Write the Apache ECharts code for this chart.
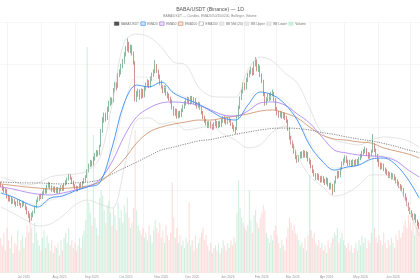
<!DOCTYPE html>
<html>
<head>
<meta charset="utf-8">
<script src="https://cdn.jsdelivr.net/npm/echarts@6/dist/echarts.min.js"></script>
<style>
  html, body { margin: 0; padding: 0; background: #fff; }
  #chart { width: 420px; height: 280px; }
</style>
</head>
<body>
<div id="chart"></div>
<script>
// trading days (weekdays) from 2025-06-10, one per candle
var dates = [];
var d = Date.UTC(2025, 5, 10);
while (dates.length < 272) {
  var dt = new Date(d);
  var wd = dt.getUTCDay();
  if (wd !== 0 && wd !== 6) dates.push(dt.toISOString().slice(0, 10));
  d += 86400000;
}
var monthNames = ['Jan','Feb','Mar','Apr','May','Jun','Jul','Aug','Sep','Oct','Nov','Dec'];

var opens = [
  123.4,122.2,121.3,119.5,120.2,117.4,115.5,116.6,114.9,115.6,
  114.0,113.2,115.3,113.5,112.9,114.1,113.6,112.1,109.9,108.5,
  106.5,108.6,109.9,112.1,115.4,116.0,117.9,116.6,119.1,120.5,
  119.1,122.4,123.3,121.9,120.1,121.5,119.5,121.2,119.2,120.6,
  122.1,120.4,123.2,123.8,125.6,127.3,125.9,124.3,122.5,121.8,
  120.3,121.0,123.0,121.6,124.1,124.9,126.8,129.3,132.1,133.8,
  132.7,135.0,137.2,138.4,137.5,141.2,148.6,153.1,156.2,154.5,
  158.3,161.6,163.4,162.6,167.9,170.6,169.4,175.2,176.0,179.3,
  181.0,184.9,187.0,189.8,186.5,188.3,185.2,180.6,163.5,166.2,
  167.3,164.4,167.6,165.0,168.7,170.4,171.9,169.6,173.3,175.1,
  176.5,179.1,176.7,174.6,171.5,169.2,167.3,169.2,165.9,165.3,
  163.5,162.4,159.3,156.6,158.1,155.1,156.9,155.5,158.2,159.9,
  161.1,162.8,163.5,161.6,164.1,162.1,163.4,160.9,160.0,161.3,
  159.3,157.1,154.9,153.3,151.8,150.7,152.2,150.3,149.8,151.7,
  152.6,150.5,152.2,150.9,153.3,154.4,152.9,152.2,154.2,153.2,
  151.7,150.1,149.3,149.4,154.9,159.6,163.8,167.2,170.5,168.6,
  172.7,174.9,176.4,177.6,175.5,180.3,181.5,177.6,178.7,174.8,
  172.0,165.7,161.4,163.5,165.1,163.6,166.0,166.1,163.2,158.9,
  156.7,155.6,157.1,155.0,156.5,154.4,153.1,149.3,145.2,142.8,
  141.3,138.6,135.9,134.2,136.1,137.6,136.3,138.5,136.6,137.9,
  133.2,134.1,131.5,129.3,127.6,126.1,127.6,125.7,124.8,126.5,
  124.4,123.7,125.6,122.8,121.6,122.9,119.9,124.2,126.3,128.7,
  127.0,130.5,133.1,134.4,135.9,133.9,132.6,133.9,132.1,134.1,
  132.4,134.3,132.9,135.2,136.0,138.1,138.8,139.7,137.3,135.9,
  137.2,138.7,141.6,139.3,136.8,134.5,132.3,131.0,132.4,130.1,
  128.9,128.3,127.0,128.1,126.2,127.5,125.7,124.5,123.2,122.3,
  121.1,120.7,117.9,116.2,113.8,111.4,109.9,108.3,107.0,108.4,
  105.7,104.3
];
var closes = [
  122.5,121.0,119.8,120.6,117.0,115.8,116.9,114.6,115.3,114.2,
  113.5,115.0,113.8,112.6,114.4,113.9,111.8,109.6,108.2,106.8,
  108.9,109.6,112.4,115.1,116.3,117.6,116.9,118.8,120.2,119.4,
  122.1,123.0,121.6,120.4,121.2,119.8,120.9,119.5,120.3,121.8,
  120.7,122.9,124.1,125.3,127.0,126.2,124.0,122.8,121.5,120.6,
  121.3,122.7,121.9,123.8,125.2,126.5,129.0,131.8,133.5,132.4,
  135.3,136.9,138.1,137.2,140.6,147.9,153.4,155.8,154.1,158.7,
  161.2,163.0,162.1,167.5,170.2,169.0,174.8,176.3,178.9,181.2,
  184.5,187.3,189.4,186.8,187.9,185.6,181.2,164.0,165.8,166.9,
  164.7,167.2,165.3,168.4,170.1,171.6,169.9,173.0,174.8,176.2,
  179.4,177.0,174.3,171.2,169.5,167.6,168.9,166.2,165.0,163.8,
  162.7,159.6,156.9,157.8,155.4,156.6,155.8,157.9,159.6,161.4,
  162.5,163.2,161.9,163.8,162.4,163.1,161.2,160.3,161.0,159.6,
  157.4,155.2,153.6,152.1,151.0,151.9,150.6,150.1,151.4,152.3,
  150.8,151.9,151.2,153.0,154.1,153.2,152.5,153.9,153.5,152.0,
  150.4,149.6,148.7,154.5,159.2,163.4,166.8,170.1,168.9,172.3,
  174.6,176.0,177.3,175.8,179.9,181.2,177.9,178.4,175.1,172.3,
  166.0,161.7,163.2,164.8,163.9,165.7,166.4,163.5,159.2,157.0,
  155.9,156.8,155.3,156.2,154.7,153.4,149.6,145.5,143.1,141.6,
  138.9,136.2,134.5,135.8,137.3,136.6,138.2,136.9,137.6,135.1,
  134.4,131.8,129.6,127.9,126.4,127.3,126.0,125.1,126.2,124.7,
  124.0,125.3,123.1,121.9,122.6,120.2,123.9,126.0,128.4,127.3,
  130.2,132.8,134.1,135.6,134.2,132.9,133.6,132.4,133.8,132.7,
  134.0,133.2,134.9,136.3,137.8,138.5,139.4,137.6,136.2,136.9,
  138.4,142.0,139.6,137.1,134.8,132.6,131.3,132.1,130.4,129.2,
  128.6,127.3,127.8,126.5,127.2,126.0,124.8,123.5,122.6,121.4,
  121.0,118.2,116.5,114.1,111.7,110.2,108.6,107.3,108.1,106.0,
  104.6,103.4
];
var lows = [
  121.6,120.1,119.0,118.7,116.3,114.9,114.8,113.7,113.9,113.3,
  112.4,112.8,113.0,111.7,112.1,112.9,110.9,108.8,107.1,105.0,
  105.8,107.4,109.2,111.6,114.5,115.2,116.0,116.1,118.3,118.6,
  118.7,121.4,120.8,119.5,119.3,118.9,118.8,118.6,118.4,119.7,
  119.9,120.0,122.4,123.1,124.8,125.3,123.2,121.9,120.6,119.7,
  119.6,120.4,121.1,121.0,123.3,124.2,126.1,128.7,131.2,131.5,
  132.0,134.3,136.1,136.3,136.9,140.8,147.5,152.2,152.8,153.6,
  157.4,160.2,160.8,161.9,166.8,167.7,168.8,173.9,175.1,178.0,
  180.2,183.6,186.1,185.5,185.2,184.1,179.8,162.4,162.1,164.5,
  163.2,163.6,164.0,164.3,167.5,169.2,168.6,168.9,172.1,174.0,
  175.6,175.8,173.1,170.0,168.4,166.3,166.5,165.1,163.8,162.6,
  161.4,158.5,155.6,155.4,154.2,154.3,154.6,154.9,157.3,158.8,
  160.3,161.5,160.8,160.9,161.2,161.0,160.1,159.0,159.1,158.4,
  156.2,154.0,152.3,150.9,149.7,149.8,149.5,148.8,149.0,150.5,
  149.7,149.6,150.1,150.2,152.2,152.0,151.3,151.6,152.4,150.8,
  149.3,148.0,146.9,148.8,154.0,158.7,162.9,166.1,167.6,168.0,
  171.5,173.8,175.2,174.5,174.9,178.9,176.6,176.3,173.9,171.0,
  164.8,160.3,160.6,162.4,162.7,162.9,164.8,162.3,158.0,155.8,
  154.6,154.7,154.1,154.2,153.5,152.1,148.4,144.2,141.9,140.2,
  137.6,135.0,133.2,133.5,135.2,135.4,135.6,135.7,135.5,133.9,
  132.5,130.6,128.3,126.7,125.1,125.2,124.9,123.8,124.0,123.6,
  122.7,123.0,122.0,120.5,120.7,118.0,119.3,123.4,125.6,126.2,
  126.4,129.8,132.0,133.3,133.1,131.7,131.8,131.3,131.5,131.6,
  131.8,132.0,132.3,134.4,135.4,137.0,137.7,136.4,135.0,135.1,
  136.4,138.1,138.4,135.9,133.6,131.4,130.0,130.2,129.3,128.0,
  127.3,126.1,126.0,125.3,125.4,124.8,123.5,122.3,121.3,120.1,
  119.7,117.0,115.2,112.8,110.4,108.9,107.3,106.0,106.2,104.8,
  103.3,102.0
];
var highs = [
  124.3,123.0,121.9,121.4,120.8,118.1,117.8,117.2,116.4,116.0,
  114.9,115.9,116.0,114.2,115.3,115.2,114.0,112.5,110.4,109.2,
  109.6,110.5,113.1,115.8,117.2,118.4,118.6,119.7,121.0,121.3,
  122.9,124.2,123.9,122.6,122.0,122.1,121.7,121.8,121.1,122.6,
  122.7,123.6,125.0,126.2,128.1,128.0,126.4,124.8,123.1,122.3,
  122.2,123.5,123.6,124.6,126.0,127.4,130.1,132.9,134.6,134.3,
  136.2,137.9,139.3,139.1,141.8,149.3,154.9,157.1,157.0,159.9,
  162.6,164.4,164.1,168.7,171.5,171.4,175.9,177.6,180.2,182.5,
  185.7,188.6,192.2,190.6,189.3,189.0,186.0,181.5,167.3,168.4,
  168.0,168.5,168.2,169.6,171.3,172.9,172.4,174.2,176.0,177.6,
  181.9,180.0,177.4,175.1,172.3,170.1,170.0,169.8,167.0,166.1,
  164.6,163.2,160.1,159.0,158.8,157.7,157.9,159.0,160.8,162.5,
  163.7,164.6,164.3,165.0,164.9,164.4,163.9,162.0,162.2,161.9,
  160.0,157.8,155.6,154.0,152.9,153.0,152.9,151.6,152.5,153.6,
  153.1,153.0,153.2,154.1,155.3,155.4,154.0,155.0,155.1,154.0,
  152.4,151.2,150.3,155.6,160.4,164.7,168.0,171.4,171.2,173.6,
  175.9,177.3,178.8,178.3,181.3,183.4,182.3,180.1,179.4,175.6,
  172.6,166.4,164.5,166.0,166.2,166.9,167.9,166.8,163.9,159.7,
  157.8,157.9,157.6,157.3,157.0,155.5,153.8,150.0,146.0,143.9,
  142.1,139.4,136.8,136.9,138.5,138.7,139.3,139.0,138.8,138.4,
  135.6,134.7,132.2,130.1,128.4,128.3,128.0,126.9,127.2,126.9,
  125.6,126.4,126.0,123.7,123.8,123.3,124.8,127.1,129.5,129.4,
  131.3,133.9,135.3,136.8,136.6,134.8,134.7,134.5,134.9,134.6,
  135.1,135.0,136.0,137.5,138.9,139.8,140.9,140.3,138.3,138.1,
  139.5,146.9,142.5,140.0,137.5,135.2,133.4,133.2,132.9,131.0,
  130.2,129.2,128.9,128.6,128.3,127.9,126.6,125.4,124.3,123.2,
  122.5,121.3,118.7,116.9,114.5,112.2,110.7,109.2,109.3,108.9,
  106.4,105.2
];
var volumes = [
  14,11,16,9,18,13,10,15,8,12,
  11,17,9,13,15,10,14,19,16,22,
  18,12,20,16,13,11,9,14,17,10,
  15,12,9,13,8,11,10,12,7,13,
  9,14,16,12,18,11,13,10,12,9,
  11,14,10,15,17,21,90,28,24,19,
  55,22,18,15,30,33,31,25,20,27,
  29,24,19,26,23,17,28,22,25,20,
  27,24,30,22,18,20,26,57,25,19,
  17,15,18,14,16,13,19,15,12,17,
  21,18,16,20,14,17,12,19,15,13,
  16,36,22,14,18,12,15,11,13,10,
  14,12,28,11,13,9,15,10,12,14,
  16,18,13,15,11,9,12,8,10,11,
  9,12,8,10,13,11,9,12,10,13,
  11,14,12,24,37,26,22,20,18,17,
  19,33,21,16,23,25,20,18,22,24,
  27,25,16,14,12,15,13,17,19,15,
  12,10,13,11,9,14,18,22,20,17,
  19,16,15,13,11,12,10,14,9,15,
  39,17,14,16,12,11,13,10,12,9,
  11,8,13,10,12,14,16,15,18,12,
  14,16,13,11,10,12,9,11,8,10,
  12,9,13,11,15,12,14,10,13,12,
  16,47,18,14,12,15,13,11,16,12,
  10,13,11,14,12,10,15,13,17,14,
  16,19,21,18,23,20,17,22,15,19,
  21,18
];

// indicator lines at these candle indices
var sampleAt = [0,8,16,24,32,40,48,56,64,72,80,88,96,104,112,120,128,136,144,152,
                160,168,176,184,192,200,208,216,224,232,240,248,256,264,271];
var ema20 = [118.9,117.0,114.2,112.3,116.5,117.5,119.9,121.8,123.7,140.3,161.6,170.1,169.2,171.5,166.3,163.5,161.1,157.8,154.5,153.5,
             160.6,166.8,165.4,161.1,153.5,141.7,134.1,129.8,131.2,132.2,135.0,135.5,132.2,125.1,116.5];
var ema50 = [121.8,120.8,119.4,118.4,118.0,118.9,120.3,121.8,125.1,133.6,145.9,155.0,159.2,161.6,162.1,161.6,160.6,158.3,155.9,155.4,
             157.8,161.6,162.1,160.6,156.4,152.1,145.5,139.3,137.9,136.9,136.5,136.0,134.1,129.8,126.5];
var ema100 = [123.2,122.5,121.8,121.3,120.8,121.1,121.5,122.2,124.1,128.9,135.0,142.6,147.8,150.2,151.6,152.6,153.5,153.5,154.5,155.4,
              156.4,157.8,158.3,156.8,154.5,150.2,146.4,144.5,144.0,143.1,142.6,140.3,138.8,137.4,135.5];
var ema200 = [124.1,123.9,123.7,123.7,123.4,123.2,123.7,124.1,125.1,127.9,130.8,133.6,136.5,139.3,140.7,142.2,143.6,144.3,145.5,146.7,
              147.8,148.8,149.5,149.7,149.5,148.8,147.6,146.7,145.5,144.5,143.6,142.4,141.0,139.3,138.1];
var bbMid = [119.4,117.0,114.4,113.5,115.4,117.8,120.6,122.5,124.6,136.2,160.7,173.9,173.7,169.9,166.8,164.2,159.5,157.8,155.7,154.2,
             158.8,162.6,164.7,163.3,154.1,143.1,134.8,130.8,130.8,132.2,135.8,136.5,134.6,127.7,119.6];
var bbUpper = [126.5,124.6,122.7,123.7,126.5,127.5,127.9,129.4,135.5,160.6,190.5,194.3,192.9,188.1,181.0,179.6,169.2,164.9,164.4,164.4,
               177.2,183.4,181.5,175.8,171.1,159.2,147.4,144.0,142.6,141.7,144.0,145.5,145.0,143.6,140.7];
var bbLower = [112.3,109.4,106.1,103.3,104.2,108.0,113.2,115.6,113.7,111.8,130.8,153.5,154.5,151.6,152.6,148.8,149.7,150.7,146.9,144.0,
               140.3,141.7,147.8,150.7,137.0,127.0,122.2,117.5,118.9,122.7,127.5,127.5,124.1,111.8,98.5];

// vertical grid lines fall on these candle boundaries
var gridDays = [5,27,49,71,93,115,137,158,179,201,223,245,266];

var upColor = '#3e8e5e', downColor = '#b44a3e';
var font = 'Liberation Sans, Arial, sans-serif';

var candles = opens.map(function (o, i) { return [o, closes[i], lows[i], highs[i]]; });
function pts(vals) { return sampleAt.map(function (idx, k) { return [dates[idx], vals[k]]; }); }

function lineSeries(name, vals, color, width, type) {
  return {
    name: name, type: 'line', xAxisIndex: 0, yAxisIndex: 0,
    data: pts(vals), smooth: 0.35, symbol: 'none', silent: true,
    lineStyle: { color: color, width: width, type: type || 'solid' },
    itemStyle: { color: color }
  };
}

var chart = echarts.init(document.getElementById('chart'), null, { renderer: 'canvas' });
chart.setOption({
  animation: false,
  backgroundColor: '#fff',
  textStyle: { fontFamily: font },
  title: {
    text: 'BABA/USDT (Binance) — 1D',
    subtext: 'BABA/USDT — Candles, EMA20/50/100/200, Bollinger, Volume',
    left: 'center', top: 2.5, itemGap: 2.5,
    textStyle: { fontSize: 5.2, fontWeight: 'normal', color: '#555', fontFamily: font },
    subtextStyle: { fontSize: 3.3, color: '#888', fontFamily: font }
  },
  legend: {
    top: 16.6, left: 'center', icon: 'rect',
    itemWidth: 4.5, itemHeight: 3.4, itemGap: 1.5,
    textStyle: { fontSize: 3.2, color: '#777', fontFamily: font, padding: [0, 0, 0, -3] },
    data: [
      { name: 'BABA/USDT', itemStyle: { color: '#555', borderColor: '#444', borderWidth: 0.5 } },
      { name: 'EMA20', itemStyle: { color: '#d6e7ff', borderColor: '#3b8ff5', borderWidth: 0.7 } },
      { name: 'EMA50', itemStyle: { color: '#ece2fc', borderColor: '#a77bf0', borderWidth: 0.7 } },
      { name: 'EMA100', itemStyle: { color: '#f7e9df', borderColor: '#c98b62', borderWidth: 0.7 } },
      { name: 'EMA200', itemStyle: { color: '#fff', borderColor: '#666', borderWidth: 0.7, borderType: 'dotted' } },
      { name: 'BB Mid (20)', itemStyle: { color: '#e8e8e8', borderColor: '#d6d6d6', borderWidth: 0.5 } },
      { name: 'BB Upper', itemStyle: { color: '#e8e8e8', borderColor: '#d6d6d6', borderWidth: 0.5 } },
      { name: 'BB Lower', itemStyle: { color: '#e8e8e8', borderColor: '#d6d6d6', borderWidth: 0.5 } },
      { name: 'Volume', itemStyle: { color: '#c9efd9', borderColor: '#c9efd9', borderWidth: 0.5 } }
    ]
  },
  grid: [
    { left: 0, right: 0, top: 22, bottom: 26 },
    { left: 0, right: 0, top: 22, bottom: 7 }
  ],
  xAxis: [
    { type: 'category', gridIndex: 0, data: dates, boundaryGap: true, show: false },
    {
      type: 'category', gridIndex: 1, data: dates, boundaryGap: true,
      axisLine: { show: false }, axisTick: { show: false },
      axisLabel: {
        fontSize: 3.3, color: '#999', margin: 2.5, fontFamily: font,
        interval: function (i, v) { return i > 0 && v.slice(0, 7) !== dates[i - 1].slice(0, 7); },
        formatter: function (v) { return monthNames[+v.slice(5, 7) - 1] + ' ' + v.slice(0, 4); }
      },
      splitLine: {
        show: true,
        interval: function (i) { return gridDays.indexOf(i) >= 0; },
        lineStyle: { color: '#ececec', width: 0.6 }
      }
    }
  ],
  yAxis: [
    {
      type: 'value', gridIndex: 0, min: 90, max: 200, interval: 30,
      axisLabel: { show: false }, axisLine: { show: false }, axisTick: { show: false },
      splitLine: { show: true, showMinLine: false, lineStyle: { color: '#f2f2f2', width: 0.6 } }
    },
    { type: 'value', gridIndex: 1, min: 0, max: 100, show: false, splitLine: { show: false } }
  ],
  series: [
    {
      name: 'Volume', type: 'bar', xAxisIndex: 1, yAxisIndex: 1, barWidth: '70%',
      data: volumes, silent: true,
      itemStyle: {
        color: function (p) {
          return closes[p.dataIndex] >= opens[p.dataIndex] ? 'rgba(46,184,110,0.22)' : 'rgba(240,80,70,0.2)';
        }
      }
    },
    lineSeries('BB Upper', bbUpper, '#d2d2d2', 0.6),
    lineSeries('BB Lower', bbLower, '#d2d2d2', 0.6),
    lineSeries('BB Mid (20)', bbMid, '#dcdcdc', 0.5),
    lineSeries('EMA200', ema200, '#555', 0.7, [1.2, 1.2]),
    lineSeries('EMA100', ema100, '#c98b62', 0.8),
    lineSeries('EMA50', ema50, '#a77bf0', 0.8),
    lineSeries('EMA20', ema20, '#3b8ff5', 0.9),
    {
      name: 'BABA/USDT', type: 'candlestick', xAxisIndex: 0, yAxisIndex: 0,
      data: candles, barWidth: '55%',
      itemStyle: {
        color: upColor, color0: downColor,
        borderColor: upColor, borderColor0: downColor, borderWidth: 0.6
      }
    }
  ]
});
</script>
</body>
</html>
